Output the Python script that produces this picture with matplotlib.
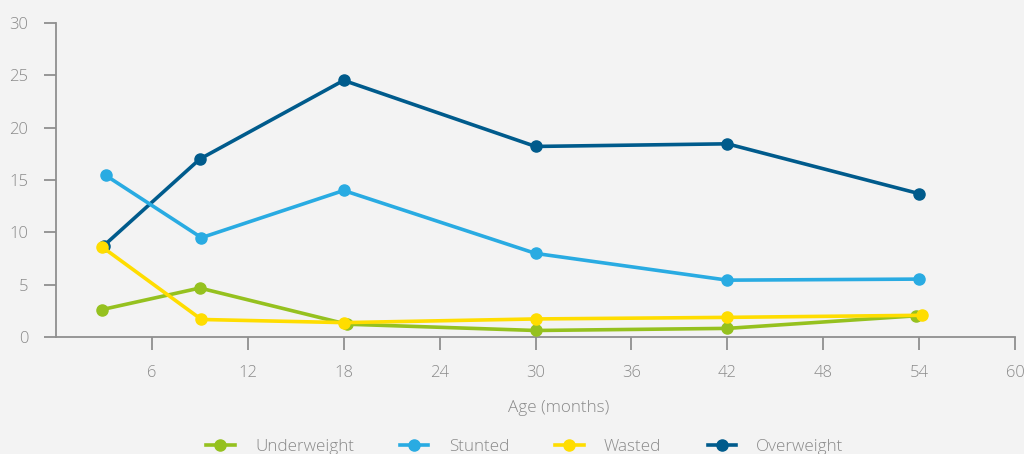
import matplotlib
matplotlib.use("Agg")
import matplotlib.pyplot as plt

# Data
ages_under = [2.9, 9.0, 18.2, 30.0, 42.0, 53.8]
underweight = [2.65, 4.7, 1.25, 0.65, 0.85, 2.05]
ages_stunt = [3.1, 9.1, 18.0, 30.0, 42.0, 54.0]
stunted = [15.45, 9.5, 14.0, 8.0, 5.45, 5.55]
ages_waste = [2.9, 9.1, 18.0, 30.0, 42.0, 54.2]
wasted = [8.6, 1.7, 1.4, 1.75, 1.9, 2.1]
ages_over = [3.0, 9.0, 18.0, 30.0, 42.0, 54.0]
overweight = [8.75, 17.0, 24.5, 18.2, 18.45, 13.7]

x_ticks = [6, 12, 18, 24, 30, 36, 42, 48, 54, 60]
y_ticks = [0, 5, 10, 15, 20, 25, 30]

plt.rcParams['font.family'] = ['Open Sans', 'DejaVu Sans']
txt = '#8a8a8a'
bg = '#f3f3f3'

fig = plt.figure(figsize=(10.24, 4.54), dpi=100, facecolor=bg)
ax = fig.add_axes([56/1024, (454-337.3)/454, (1015-56)/1024, (337.3-22.7)/454])
ax.set_facecolor(bg)

series = [
    ('Overweight', ages_over, overweight, '#005b8c', 2),
    ('Stunted', ages_stunt, stunted, '#29abe2', 3),
    ('Underweight', ages_under, underweight, '#95c11f', 4),
    ('Wasted', ages_waste, wasted, '#ffdd00', 5),
]
handles = {}
for name, xs, ys, c, z in series:
    h, = ax.plot(xs, ys, color=c, lw=2.6, marker='o', ms=8.0, zorder=z, label=name)
    handles[name] = h

ax.set_xlim(0, 60)
ax.set_ylim(0, 30)
ax.set_xticks(x_ticks)
ax.set_yticks(y_ticks)
for s in ['top', 'right']:
    ax.spines[s].set_visible(False)
for s in ['left', 'bottom']:
    ax.spines[s].set_color('#8f8f8f')
    ax.spines[s].set_linewidth(1.3)
ax.tick_params(axis='both', colors='#8f8f8f', labelcolor=txt, length=9, width=1.3, labelsize=12)
ax.tick_params(axis='x', pad=11)
ax.tick_params(axis='y', pad=11)
for lab in ax.get_xticklabels() + ax.get_yticklabels():
    lab.set_fontweight('light')

fig.text(559/1024, 1-408/454, 'Age (months)', ha='center', va='center', color=txt, fontsize=12.3, fontweight='light')

order = ['Underweight', 'Stunted', 'Wasted', 'Overweight']
leg = fig.legend([handles[n] for n in order], order, loc='center', bbox_to_anchor=(525/1024, 7/454),
                 ncol=4, frameon=False, handlelength=1.65, handletextpad=1.2, columnspacing=2.7,
                 prop={'size': 12.3, 'weight': 'light'})
for t in leg.get_texts():
    t.set_color(txt)
for lh in leg.get_lines():
    lh.set_markersize(8)

fig.savefig('out.png', dpi=100, facecolor=bg)
